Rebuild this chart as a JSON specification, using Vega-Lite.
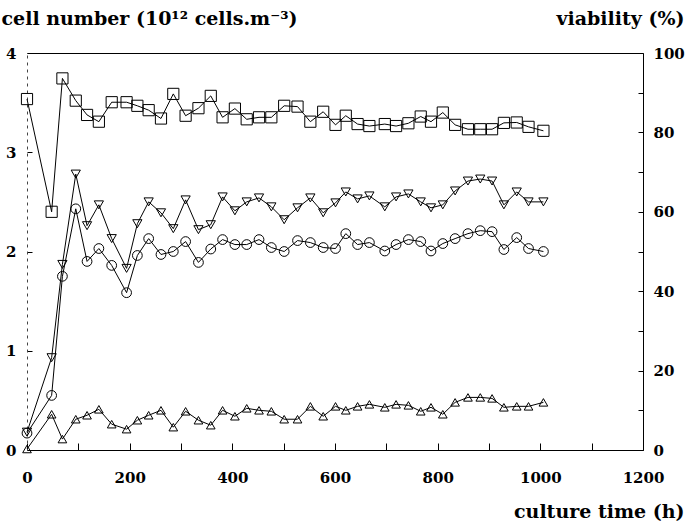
{
  "$schema": "https://vega.github.io/schema/vega-lite/v6.json",
  "width": 616,
  "height": 397,
  "autosize": {"type": "none"},
  "padding": {"left": 27, "top": 53, "right": 43, "bottom": 79},
  "background": "white",
  "config": {
    "view": {"stroke": null},
    "font": "DejaVu Serif",
    "axis": {
      "labelFont": "DejaVu Serif",
      "titleFont": "DejaVu Serif",
      "labelColor": "black",
      "titleColor": "black",
      "domainColor": "black",
      "tickColor": "black",
      "grid": false,
      "labelFontSize": 15,
      "labelFontWeight": "bold",
      "titleFontSize": 19,
      "titleFontWeight": "bold"
    }
  },
  "datasets": {
    "cells": [
      {"t":0,"s":"c","v":0.17},{"t":48,"s":"c","v":0.55},{"t":69,"s":"c","v":1.75},{"t":95,"s":"c","v":2.43},{"t":117,"s":"c","v":1.90},{"t":140,"s":"c","v":2.03},{"t":165,"s":"c","v":1.86},{"t":194,"s":"c","v":1.585},{"t":215,"s":"c","v":1.96},{"t":237,"s":"c","v":2.13},
      {"t":261,"s":"c","v":1.97},{"t":285,"s":"c","v":2.00},{"t":309,"s":"c","v":2.10},{"t":334,"s":"c","v":1.89},{"t":358,"s":"c","v":2.025},{"t":381,"s":"c","v":2.12},{"t":405,"s":"c","v":2.07},{"t":428,"s":"c","v":2.07},{"t":452,"s":"c","v":2.12},{"t":476,"s":"c","v":2.04},
      {"t":501,"s":"c","v":2.00},{"t":527,"s":"c","v":2.11},{"t":552,"s":"c","v":2.09},{"t":577,"s":"c","v":2.04},{"t":601,"s":"c","v":2.03},{"t":621,"s":"c","v":2.18},{"t":644,"s":"c","v":2.07},{"t":667,"s":"c","v":2.09},{"t":697,"s":"c","v":2.005},{"t":719,"s":"c","v":2.07},
      {"t":743,"s":"c","v":2.12},{"t":767,"s":"c","v":2.10},{"t":787,"s":"c","v":2.005},{"t":810,"s":"c","v":2.08},{"t":834,"s":"c","v":2.13},{"t":859,"s":"c","v":2.18},{"t":883,"s":"c","v":2.21},{"t":906,"s":"c","v":2.20},{"t":929,"s":"c","v":2.02},{"t":954,"s":"c","v":2.14},
      {"t":977,"s":"c","v":2.03},{"t":1006,"s":"c","v":2.00},

      {"t":0,"s":"td","v":0.18},{"t":48,"s":"td","v":0.93},{"t":69,"s":"td","v":1.87},{"t":95,"s":"td","v":2.78},{"t":117,"s":"td","v":2.26},{"t":140,"s":"td","v":2.47},{"t":165,"s":"td","v":2.13},{"t":194,"s":"td","v":1.83},{"t":215,"s":"td","v":2.28},{"t":237,"s":"td","v":2.50},
      {"t":261,"s":"td","v":2.39},{"t":285,"s":"td","v":2.23},{"t":309,"s":"td","v":2.52},{"t":334,"s":"td","v":2.22},{"t":358,"s":"td","v":2.27},{"t":381,"s":"td","v":2.55},{"t":405,"s":"td","v":2.41},{"t":428,"s":"td","v":2.50},{"t":452,"s":"td","v":2.54},{"t":476,"s":"td","v":2.45},
      {"t":501,"s":"td","v":2.32},{"t":527,"s":"td","v":2.44},{"t":552,"s":"td","v":2.54},{"t":577,"s":"td","v":2.39},{"t":601,"s":"td","v":2.49},{"t":621,"s":"td","v":2.60},{"t":644,"s":"td","v":2.53},{"t":667,"s":"td","v":2.56},{"t":697,"s":"td","v":2.45},{"t":719,"s":"td","v":2.55},
      {"t":743,"s":"td","v":2.58},{"t":767,"s":"td","v":2.50},{"t":787,"s":"td","v":2.44},{"t":810,"s":"td","v":2.47},{"t":834,"s":"td","v":2.61},{"t":859,"s":"td","v":2.71},{"t":883,"s":"td","v":2.73},{"t":906,"s":"td","v":2.71},{"t":929,"s":"td","v":2.47},{"t":954,"s":"td","v":2.60},
      {"t":977,"s":"td","v":2.50},{"t":1006,"s":"td","v":2.50},

      {"t":0,"s":"tu","v":0.01},{"t":48,"s":"tu","v":0.36},{"t":69,"s":"tu","v":0.11},{"t":95,"s":"tu","v":0.31},{"t":117,"s":"tu","v":0.35},{"t":140,"s":"tu","v":0.41},{"t":165,"s":"tu","v":0.26},{"t":194,"s":"tu","v":0.21},{"t":215,"s":"tu","v":0.30},{"t":237,"s":"tu","v":0.35},
      {"t":261,"s":"tu","v":0.40},{"t":285,"s":"tu","v":0.23},{"t":309,"s":"tu","v":0.39},{"t":334,"s":"tu","v":0.30},{"t":358,"s":"tu","v":0.25},{"t":381,"s":"tu","v":0.40},{"t":405,"s":"tu","v":0.34},{"t":428,"s":"tu","v":0.42},{"t":452,"s":"tu","v":0.40},{"t":476,"s":"tu","v":0.39},
      {"t":501,"s":"tu","v":0.31},{"t":527,"s":"tu","v":0.31},{"t":552,"s":"tu","v":0.44},{"t":577,"s":"tu","v":0.34},{"t":601,"s":"tu","v":0.44},{"t":621,"s":"tu","v":0.40},{"t":644,"s":"tu","v":0.44},{"t":667,"s":"tu","v":0.46},{"t":697,"s":"tu","v":0.43},{"t":719,"s":"tu","v":0.46},
      {"t":743,"s":"tu","v":0.45},{"t":767,"s":"tu","v":0.39},{"t":787,"s":"tu","v":0.43},{"t":810,"s":"tu","v":0.36},{"t":834,"s":"tu","v":0.48},{"t":859,"s":"tu","v":0.53},{"t":883,"s":"tu","v":0.53},{"t":906,"s":"tu","v":0.52},{"t":929,"s":"tu","v":0.43},{"t":954,"s":"tu","v":0.44},
      {"t":977,"s":"tu","v":0.44},{"t":1006,"s":"tu","v":0.48}
    ],
    "viab": [
      {"t":0,"v":88.4},{"t":48,"v":60},{"t":69,"v":93.6},{"t":95,"v":88},{"t":117,"v":84.4},{"t":140,"v":82.7},{"t":165,"v":87.6},{"t":194,"v":87.6},{"t":215,"v":86.7},{"t":237,"v":85.6},
      {"t":261,"v":83.5},{"t":285,"v":89.7},{"t":309,"v":84.2},{"t":334,"v":86.1},{"t":358,"v":89.2},{"t":381,"v":83.8},{"t":405,"v":86},{"t":428,"v":83.3},{"t":452,"v":83.8},{"t":476,"v":83.8},
      {"t":501,"v":86.7},{"t":527,"v":86.5},{"t":552,"v":82.7},{"t":577,"v":85.2},{"t":601,"v":81.9},{"t":621,"v":84.2},{"t":644,"v":82.1},{"t":667,"v":81.6},{"t":697,"v":82.1},{"t":719,"v":81.6},
      {"t":743,"v":82.3},{"t":767,"v":84},{"t":787,"v":82.7},{"t":810,"v":85},{"t":834,"v":81.9},{"t":859,"v":80.8},{"t":883,"v":80.8},{"t":906,"v":80.8},{"t":929,"v":82.4},{"t":954,"v":82.5},
      {"t":977,"v":81.4},{"t":1006,"v":80.4}
    ]
  },
  "layer": [
    {
      "data": {"name": "cells"},
      "encoding": {
        "x": {
          "field": "t", "type": "quantitative",
          "scale": {"domain": [0, 1200], "nice": false, "zero": false},
          "axis": {
            "orient": "bottom",
            "values": [0,100,200,300,400,500,600,700,800,900,1000,1100,1200],
            "labelExpr": "datum.value % 200 === 0 ? datum.label : ''",
            "format": "d",
            "tickSize": -7,
            "labelPadding": 27,
            "labelFlush": false,
            "title": "culture time (h)",
            "titleAnchor": "end",
            "titleAlign": "right",
            "titleAngle": 0,
            "titleBaseline": "alphabetic",
            "titleX": 657,
            "titleY": 67
          }
        },
        "y": {
          "field": "v", "type": "quantitative",
          "scale": {"domain": [0, 4], "nice": false, "zero": false},
          "axis": {
            "orient": "left",
            "values": [0,1,2,3,4],
            "format": "d",
            "tickSize": -5,
            "labelPadding": 16,
            "domainDash": [3, 4],
            "domainColor": "#444",
            "labelFlush": false,
            "title": "cell number (10¹² cells.m⁻³)",
            "titleAngle": 0,
            "titleAlign": "left",
            "titleAnchor": "start",
            "titleBaseline": "alphabetic",
            "titleX": -26,
            "titleY": -29
          }
        },
        "detail": {"field": "s"}
      },
      "layer": [
        {"mark": {"type": "line", "color": "black", "strokeWidth": 1}},
        {
          "mark": {"type": "point", "filled": false, "color": "black", "strokeWidth": 1, "opacity": 1},
          "encoding": {
            "shape": {"field": "s", "type": "nominal", "scale": {"domain": ["c","td","tu"], "range": ["circle","triangle-down","triangle-up"]}, "legend": null},
            "size": {"field": "s", "type": "nominal", "scale": {"domain": ["c","td","tu"], "range": [95, 75, 80]}, "legend": null}
          }
        }
      ]
    },
    {
      "data": {"name": "viab"},
      "encoding": {
        "x": {
          "field": "t", "type": "quantitative",
          "scale": {"domain": [0, 1200], "nice": false, "zero": false},
          "axis": {"orient": "top", "labels": false, "ticks": false, "title": null, "domain": true}
        },
        "y": {
          "field": "v", "type": "quantitative",
          "scale": {"domain": [0, 100], "nice": false, "zero": false},
          "axis": {
            "orient": "right",
            "values": [0,10,20,30,40,50,60,70,80,90,100],
            "labelExpr": "datum.value % 20 === 0 ? datum.label : ''",
            "format": "d",
            "tickSize": -5,
            "labelPadding": 15,
            "labelFlush": false,
            "title": "viability (%)",
            "titleAngle": 0,
            "titleAlign": "right",
            "titleAnchor": "start",
            "titleBaseline": "alphabetic",
            "titleX": 41,
            "titleY": -29
          }
        }
      },
      "layer": [
        {"mark": {"type": "line", "color": "black", "strokeWidth": 1}},
        {"mark": {"type": "point", "shape": "square", "filled": false, "color": "black", "strokeWidth": 1, "opacity": 1, "size": 125}}
      ]
    }
  ],
  "resolve": {"scale": {"y": "independent"}, "axis": {"x": "independent"}}
}
